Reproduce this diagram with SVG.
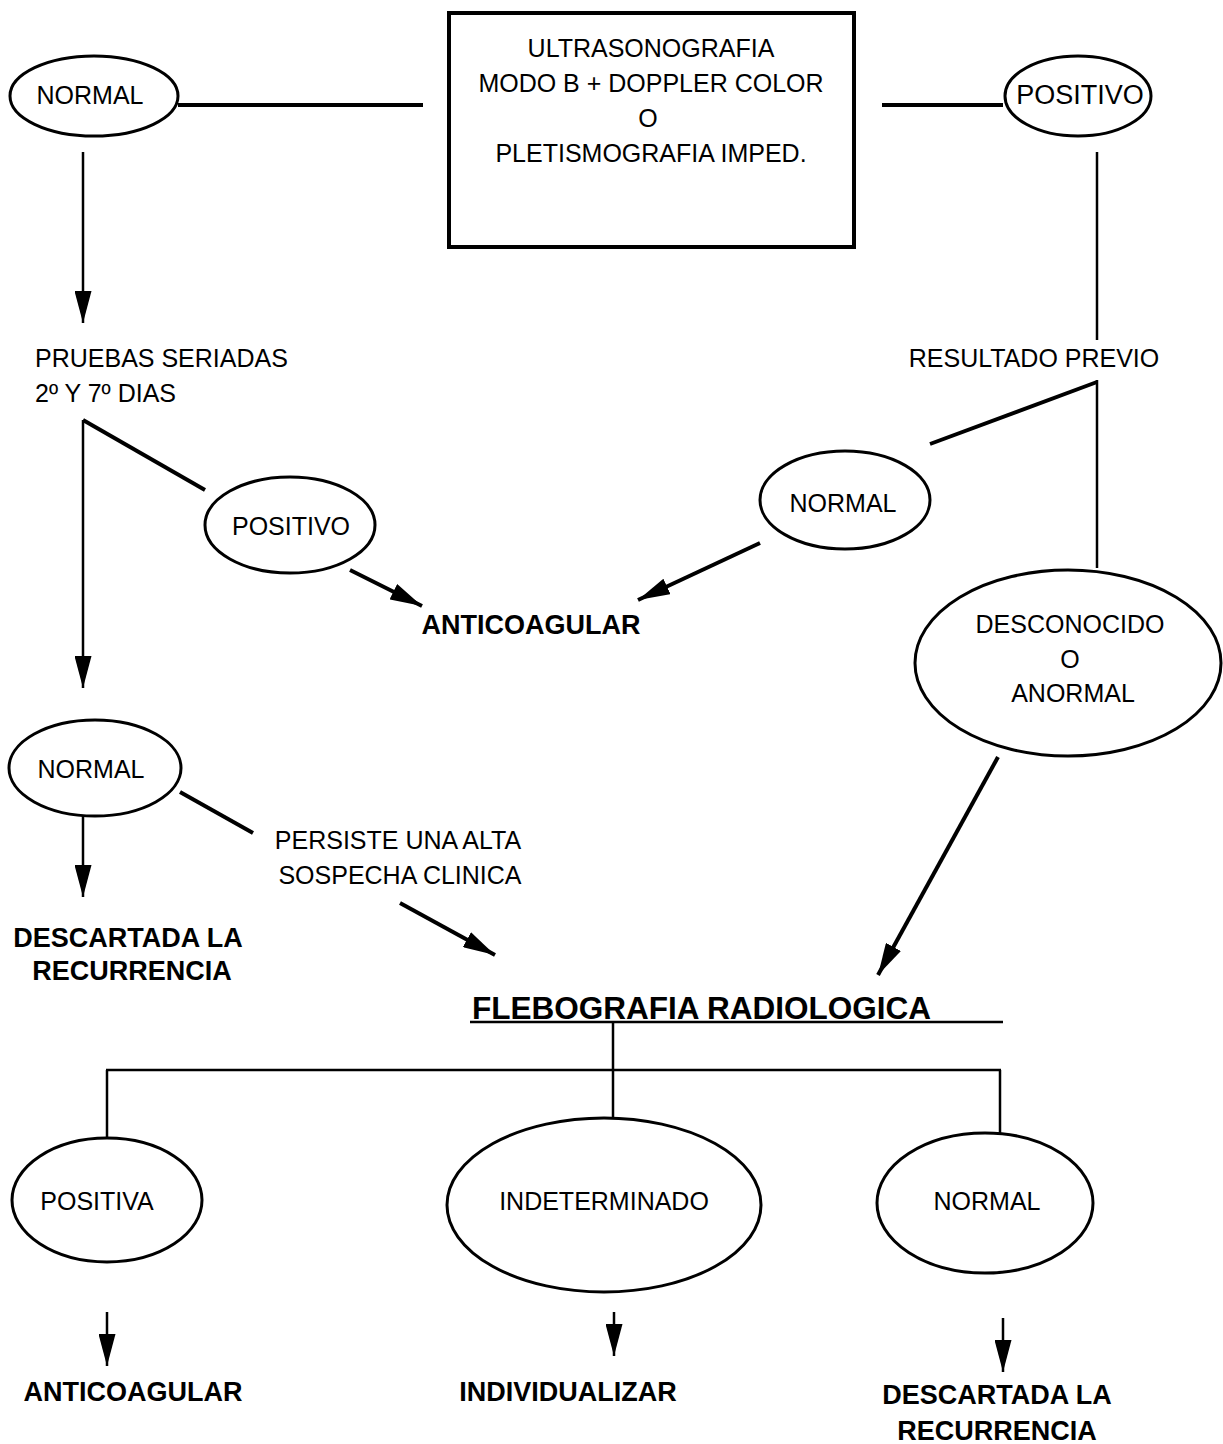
<svg xmlns="http://www.w3.org/2000/svg" width="1223" height="1444" viewBox="0 0 1223 1444">
<defs>
<marker id="arr" markerUnits="userSpaceOnUse" markerWidth="32" markerHeight="17" viewBox="0 0 32 17" refX="32" refY="8.5" orient="auto">
<path d="M0,0 L32,8.5 L0,17 Z" fill="#000"/>
</marker>
<style>
text{font-family:"Liberation Sans",Arial,sans-serif;font-size:25px;fill:#000}
.c{text-anchor:middle}
.b{font-weight:bold;font-size:27px}
ellipse{fill:none;stroke:#000;stroke-width:3}
.ln{stroke:#000;stroke-width:2.5;fill:none}
.th{stroke:#000;stroke-width:4;fill:none}
.a{marker-end:url(#arr)}
</style>
</defs>
<rect width="1223" height="1444" fill="#fff"/>
<g id="connectors">
<line class="th" x1="178" y1="105" x2="423" y2="105"/>
<line class="th" x1="882" y1="105" x2="1003" y2="105"/>
<line class="ln a" x1="83" y1="152" x2="83" y2="323"/>
<line class="ln" x1="1097" y1="152" x2="1097" y2="340"/>
<line class="th" x1="83" y1="420" x2="205" y2="490"/>
<line class="ln a" x1="83" y1="420" x2="83" y2="688"/>
<line class="ln" x1="1097" y1="380" x2="1097" y2="568"/>
<line class="th" x1="1097" y1="382" x2="930" y2="444"/>
<line class="th a" x1="350" y1="570" x2="422" y2="606"/>
<line class="th a" x1="760" y1="543" x2="638" y2="600"/>
<line class="th a" x1="998" y1="757" x2="878" y2="975"/>
<line class="th" x1="180" y1="792" x2="253" y2="833"/>
<line class="ln a" x1="83" y1="815" x2="83" y2="897"/>
<line class="th a" x1="400" y1="903" x2="495" y2="955"/>
<line class="ln" x1="470" y1="1022" x2="1003" y2="1022"/>
<line class="ln" x1="613" y1="1022" x2="613" y2="1118"/>
<line class="ln" x1="106" y1="1070" x2="1001" y2="1070"/>
<line class="ln" x1="107" y1="1070" x2="107" y2="1139"/>
<line class="ln" x1="1000" y1="1070" x2="1000" y2="1133"/>
<line class="ln a" x1="107" y1="1312" x2="107" y2="1366"/>
<line class="ln a" x1="614" y1="1312" x2="614" y2="1356"/>
<line class="ln a" x1="1003" y1="1318" x2="1003" y2="1372"/>
</g>
<g id="box">
<rect x="449" y="13" width="405" height="234" fill="none" stroke="#000" stroke-width="4"/>
<text class="c" x="651" y="57">ULTRASONOGRAFIA</text>
<text class="c" x="651" y="92">MODO B + DOPPLER COLOR</text>
<text class="c" x="648" y="127">O</text>
<text class="c" x="651" y="162">PLETISMOGRAFIA IMPED.</text>
</g>
<g id="normal1"><ellipse cx="94" cy="96" rx="84" ry="40"/><text class="c" x="90" y="104">NORMAL</text></g>
<g id="positivo1"><ellipse cx="1078" cy="96" rx="73" ry="40"/><text class="c" x="1080" y="104" style="font-size:27px">POSITIVO</text></g>
<g id="pruebas"><text x="35" y="367">PRUEBAS SERIADAS</text><text x="35" y="402">2º Y 7º DIAS</text></g>
<g id="resultado"><text class="c" x="1034" y="367">RESULTADO PREVIO</text></g>
<g id="positivo2"><ellipse cx="290" cy="525" rx="85" ry="48"/><text class="c" x="291" y="535">POSITIVO</text></g>
<g id="normal2"><ellipse cx="845" cy="500" rx="85" ry="49"/><text class="c" x="843" y="512">NORMAL</text></g>
<g id="anticoagular1"><text class="c b" x="531" y="634">ANTICOAGULAR</text></g>
<g id="desconocido"><ellipse cx="1068" cy="663" rx="153" ry="93"/><text class="c" x="1070" y="633">DESCONOCIDO</text><text class="c" x="1070" y="668">O</text><text class="c" x="1073" y="702">ANORMAL</text></g>
<g id="normal3"><ellipse cx="95" cy="768" rx="86" ry="48"/><text class="c" x="91" y="778">NORMAL</text></g>
<g id="persiste"><text class="c" x="398" y="849">PERSISTE UNA ALTA</text><text class="c" x="400" y="884">SOSPECHA CLINICA</text></g>
<g id="descartada1"><text class="c b" x="128" y="947">DESCARTADA LA</text><text class="c b" x="132" y="980">RECURRENCIA</text></g>
<g id="flebografia"><text class="b" x="472" y="1019" style="font-size:31.5px">FLEBOGRAFIA RADIOLOGICA</text></g>
<g id="positiva"><ellipse cx="107" cy="1200" rx="95" ry="62"/><text class="c" x="97" y="1210">POSITIVA</text></g>
<g id="indeterminado"><ellipse cx="604" cy="1205" rx="157" ry="87"/><text class="c" x="604" y="1210">INDETERMINADO</text></g>
<g id="normal4"><ellipse cx="985" cy="1203" rx="108" ry="70"/><text class="c" x="987" y="1210">NORMAL</text></g>
<g id="anticoagular2"><text class="c b" x="133" y="1401">ANTICOAGULAR</text></g>
<g id="individualizar"><text class="c b" x="568" y="1401">INDIVIDUALIZAR</text></g>
<g id="descartada2"><text class="c b" x="997" y="1404">DESCARTADA LA</text><text class="c b" x="997" y="1440">RECURRENCIA</text></g>
</svg>
